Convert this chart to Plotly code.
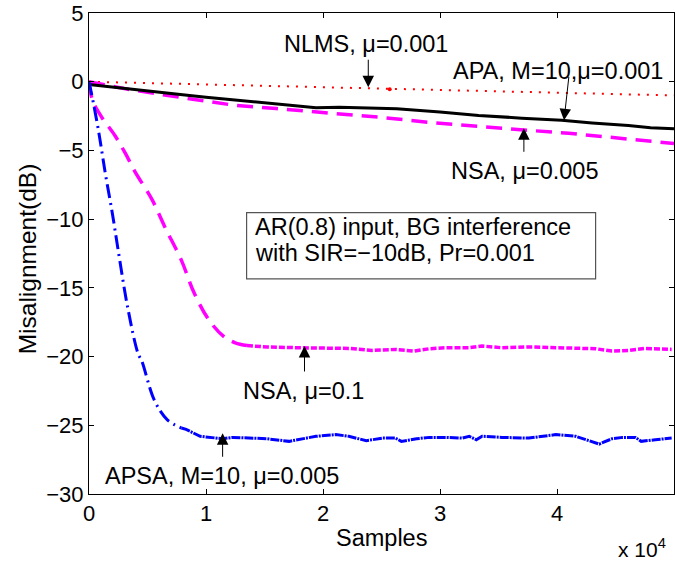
import plotly.graph_objects as go

# ---------------- data (x in samples) ----------------
nlms_x = [0, 5000, 10000, 15000, 20000, 25000, 30000, 35000, 40000, 45000, 50000]
nlms_y = [0.0, -0.1, -0.2, -0.3, -0.42, -0.5, -0.6, -0.7, -0.8, -0.9, -1.0]

apa_x = [0, 2500, 5000, 6600, 8000, 10000, 12000, 15200, 17500, 19400, 21400,
         24000, 26300, 30000, 33300, 37000, 40400, 43000, 46100, 48000, 50000]
apa_y = [-0.2, -0.45, -0.7, -0.84, -0.95, -1.13, -1.3, -1.57, -1.75, -1.9, -1.86,
         -1.9, -1.96, -2.2, -2.45, -2.65, -2.81, -3.0, -3.18, -3.35, -3.42]

nsa005_x = [0, 3000, 6600, 10000, 12300, 16000, 19400, 20500, 25000, 29000,
            33000, 37600, 41000, 44700, 50000]
nsa005_y = [0.0, -0.5, -0.99, -1.4, -1.7, -1.95, -2.2, -2.25, -2.6, -2.95,
            -3.25, -3.54, -3.75, -4.05, -4.5]

nsa01_x = [0, 300, 1100, 2200, 3100, 3900, 5400, 6500, 7900, 9000, 10300, 11600,
           12500, 13500]
nsa01_y = [0.0, -1.35, -2.6, -3.9, -5.2, -6.5, -8.6, -10.6, -13.0, -15.4, -17.4,
           -18.6, -19.0, -19.2]
nsa01s_x = [13500, 15200, 18000, 20500, 22300, 24200, 26200, 27800, 29100, 30500,
            32500, 33600, 35300, 37600, 39900, 41600, 43300, 44700, 46100, 47500, 49800]
nsa01s_y = [-19.2, -19.3, -19.36, -19.36, -19.41, -19.55, -19.48, -19.6, -19.43, -19.36,
            -19.36, -19.23, -19.36, -19.3, -19.36, -19.36, -19.43, -19.6, -19.55, -19.41, -19.48]

apsa_x = [0, 200, 800, 1400, 2000, 2500, 3300, 4200, 4500, 5600, 6700, 7900]
apsa_y = [0.0, -0.8, -3.5, -6.7, -9.6, -12.3, -16.4, -19.8, -20.3, -23.2, -24.6, -25.2]
apsas_x = [7900, 8300, 9500, 10600, 11400, 12300, 13500, 15200, 17100, 18300, 19400,
           21100, 22200, 23700, 25100, 26200, 26700, 28000, 29100, 30500, 31900,
           32500, 33100, 33600, 35300, 37600, 39900, 41600, 42500, 43600, 44700,
           45600, 46700, 47200, 48400, 49800]
apsas_y = [-25.2, -25.3, -25.8, -25.93, -25.98, -25.88, -25.93, -25.98, -26.17, -26.0, -25.8,
           -25.68, -25.8, -26.12, -25.93, -25.93, -26.17, -25.98, -25.88, -25.88, -25.93,
           -25.8, -26.05, -25.8, -25.88, -25.93, -25.68, -25.8, -26.05, -26.37, -25.98,
           -25.88, -25.88, -26.17, -26.05, -25.93]

xtick_vals = [0, 10000, 20000, 30000, 40000, 50000]
xtick_text = ["0", "1", "2", "3", "4", "5"]
ytick_vals = [5, 0, -5, -10, -15, -20, -25, -30]

FONT = "Liberation Sans, Arial, sans-serif"
AFS = 23.5

fig = go.Figure()
fig.add_trace(go.Scatter(x=nlms_x, y=nlms_y, mode="lines",
                         line=dict(color="#ff0000", width=2, dash="2px,7px")))
fig.add_trace(go.Scatter(x=[25700], y=[-0.55], mode="markers",
                         marker=dict(color="#ff0000", size=4)))
fig.add_trace(go.Scatter(x=nsa005_x, y=nsa005_y, mode="lines",
                         line=dict(color="#ff00ff", width=3.5, dash="16px,9px")))
fig.add_trace(go.Scatter(x=apa_x, y=apa_y, mode="lines",
                         line=dict(color="#000000", width=3)))
fig.add_trace(go.Scatter(x=nsa01_x, y=nsa01_y, mode="lines", line_shape="spline",
                         line=dict(color="#ff00ff", width=3.5, dash="16px,9px")))
fig.add_trace(go.Scatter(x=nsa01s_x, y=nsa01s_y, mode="lines",
                         line=dict(color="#ff00ff", width=3.5, dash="6px,2px")))
fig.add_trace(go.Scatter(x=apsa_x, y=apsa_y, mode="lines", line_shape="spline",
                         line=dict(color="#0000ff", width=3, dash="14px,5px,2px,5px")))
fig.add_trace(go.Scatter(x=apsas_x, y=apsas_y, mode="lines",
                         line=dict(color="#0000ff", width=3, dash="9px,1px,2px,1px")))

ann = []
def txt(x, y, s, xa="center", size=AFS):
    ann.append(dict(x=x, y=y, xref="x", yref="y", text=s, showarrow=False,
                    xanchor=xa, yanchor="middle", font=dict(size=size, color="black")))

def arr(x, y, ax, ay):
    ann.append(dict(x=x, y=y, xref="x", yref="y", text="", showarrow=True,
                    ax=ax, ay=ay, arrowhead=2, arrowsize=2.3, arrowwidth=1,
                    arrowcolor="black"))

txt(23700, 2.74, "NLMS, μ=0.001")
arr(23870, -0.4, 0, -29)
txt(40100, 0.77, "APA, M=10,μ=0.001")
arr(40600, -2.81, 5, -45)
txt(37200, -6.53, "NSA, μ=0.005")
arr(37170, -3.39, 0, 25)
txt(18300, -22.52, "NSA, μ=0.1")
arr(18420, -19.23, 0, 27)
txt(11400, -28.72, "APSA, M=10, μ=0.005")
arr(11420, -25.58, 0, 25)
txt(14000, -10.55, "AR(0.8) input, BG interference", xa="left")
txt(14000, -12.45, "with SIR=−10dB, Pr=0.001", xa="left")

# axis titles and exponent
ann.append(dict(x=-0.106, y=0.49, xref="paper", yref="paper", text="Misalignment(dB)",
                textangle=-90, showarrow=False, xanchor="center", yanchor="middle",
                font=dict(size=24.5, color="black")))
ann.append(dict(x=0.5, y=-0.091, xref="paper", yref="paper", text="Samples",
                showarrow=False, xanchor="center", yanchor="middle",
                font=dict(size=AFS, color="black")))
ann.append(dict(x=0.99, y=-0.113, xref="paper", yref="paper", text="x 10<sup>4</sup>",
                showarrow=False, xanchor="right", yanchor="middle",
                font=dict(size=21, color="black")))

shapes = [dict(type="rect", xref="x", yref="y", x0=13470, x1=43300, y0=-14.34, y1=-9.53,
               line=dict(color="#555555", width=1.2), fillcolor="white", layer="below")]

fig.update_layout(
    width=675, height=564,
    margin=dict(l=89, r=1, t=13, b=70),
    paper_bgcolor="white", plot_bgcolor="white",
    showlegend=False,
    font=dict(family=FONT, size=22, color="black"),
    annotations=ann, shapes=shapes,
    xaxis=dict(range=[0, 50000], tickvals=xtick_vals, ticktext=xtick_text,
               ticks="inside", ticklen=5, tickcolor="black", showline=True,
               linecolor="black", linewidth=1, mirror="ticks", showgrid=False,
               zeroline=False, tickfont=dict(size=22)),
    yaxis=dict(range=[-30, 5], tickvals=ytick_vals,
               ticks="inside", ticklen=5, tickcolor="black", showline=True,
               linecolor="black", linewidth=1, mirror="ticks", showgrid=False,
               zeroline=False, tickfont=dict(size=22)),
)

fig.write_html("out.html")
